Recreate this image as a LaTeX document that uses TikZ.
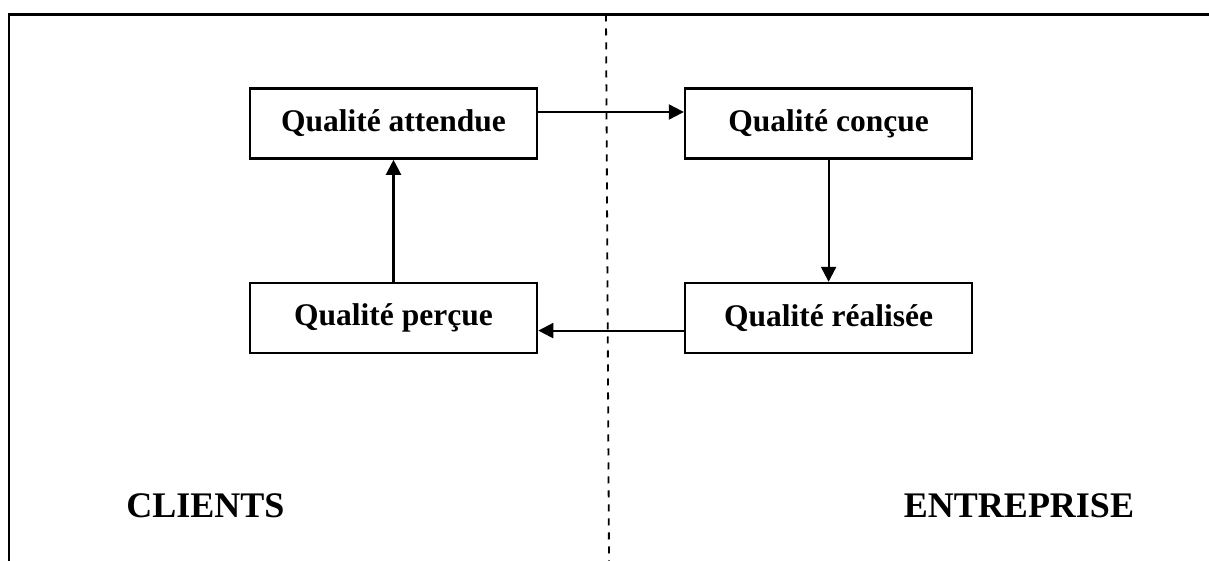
\documentclass[tikz,border=0pt]{standalone}
\usepackage{fontspec}
\setmainfont{Liberation Serif}
\usetikzlibrary{arrows.meta,positioning}

\begin{document}
\begin{tikzpicture}[x=1pt,y=-1pt,
    qbox/.style={draw,line width=2.6pt,inner sep=0pt,minimum width=287pt,
        minimum height=70pt,font=\fontsize{31.5}{36}\selectfont\bfseries},
    flow/.style={line width=2.2pt,-{Triangle[length=15pt,width=15pt]}},
    side/.style={anchor=base,font=\fontsize{36}{42}\selectfont\bfseries}]
    \useasboundingbox (0,0) rectangle (1209,561);
    \coordinate (top) at (606,14.5);
    \coordinate (bot) at (609,561);
    \draw[line width=2.2pt] (9,561) -- (9,14.5) -- (1209,14.5); % frame
    \draw[line width=1.8pt,dash pattern=on 7pt off 7pt] (top) -- (bot); % border clients/entreprise
    \node[qbox] (attendue) at (393.5,123.5) {Qualité attendue};
    \node[qbox,below=122pt of attendue] (percue) {Qualité perçue};
    \node[qbox,right=145.5pt of attendue] (concue) {Qualité conçue};
    \node[qbox,below=122pt of concue] (realisee) {Qualité réalisée};
    \draw[flow] ([yshift=11.5pt]attendue.east) -- ([yshift=11.5pt]concue.west);
    \draw[flow] (concue) -- (realisee);
    \draw[flow] ([yshift=-12.5pt]realisee.west) -- ([yshift=-12.5pt]percue.east);
    \draw[flow] (percue) -- (attendue);
    \node[side] (clients) at (205.5,517) {CLIENTS};
    \node[side] (entreprise) at (1019,517) {ENTREPRISE};
\end{tikzpicture}
\end{document}
